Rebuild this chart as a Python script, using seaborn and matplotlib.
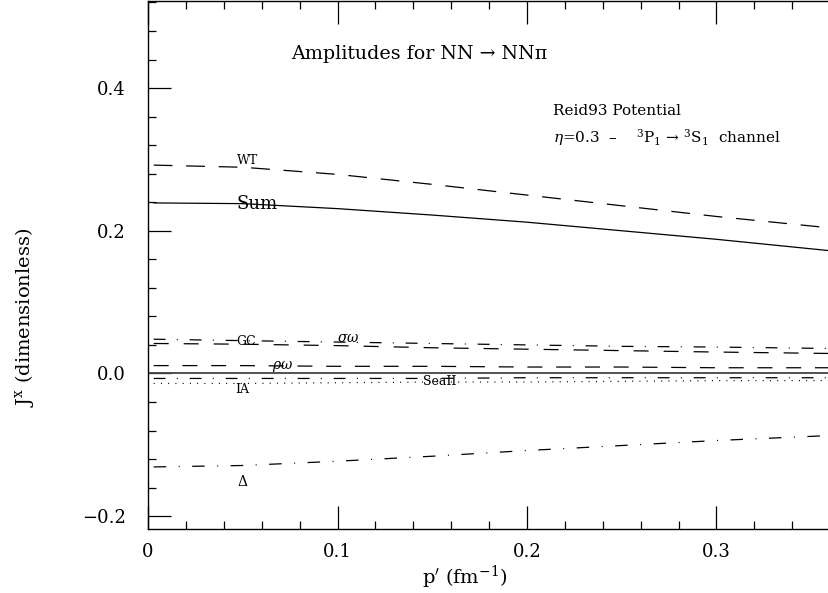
import numpy as np
import pandas as pd
import matplotlib
matplotlib.use("Agg")
import matplotlib.pyplot as plt
import seaborn as sns
from matplotlib.ticker import MultipleLocator

sns.set_theme(style="ticks")
plt.rcParams.update({
    "font.family": ["DejaVu Serif"],
    "mathtext.fontset": "dejavuserif",
    "axes.unicode_minus": True,
    "text.color": "black",
    "axes.labelcolor": "black",
    "xtick.color": "black",
    "ytick.color": "black",
    "xtick.labelcolor": "black",
    "ytick.labelcolor": "black",
})

# ---- data ----
momentum = [0.003, 0.05, 0.10, 0.15, 0.20, 0.25, 0.30, 0.36]
amp_WT = [0.292, 0.289, 0.279, 0.265, 0.250, 0.235, 0.220, 0.204]
amp_Sum = [0.239, 0.238, 0.231, 0.222, 0.212, 0.200, 0.188, 0.172]
amp_GC = [0.048, 0.046, 0.044, 0.042, 0.040, 0.038, 0.037, 0.035]
amp_sigma_omega = [0.042, 0.041, 0.039, 0.036, 0.034, 0.032, 0.030, 0.028]
amp_rho_omega = [0.011, 0.011, 0.010, 0.010, 0.009, 0.009, 0.008, 0.008]
amp_SeaII = [-0.007, -0.007, -0.007, -0.007, -0.006, -0.006, -0.006, -0.006]
amp_IA = [-0.014, -0.014, -0.013, -0.012, -0.012, -0.011, -0.010, -0.010]
amp_Delta = [-0.131, -0.129, -0.123, -0.116, -0.108, -0.101, -0.094, -0.087]

series_names = ["WT", "Sum", "GC", "sigma_omega", "rho_omega", "SeaII", "IA", "Delta"]
series_values = [amp_WT, amp_Sum, amp_GC, amp_sigma_omega, amp_rho_omega,
                 amp_SeaII, amp_IA, amp_Delta]

x_tick_values = [0.0, 0.1, 0.2, 0.3]
x_tick_labels = ["0", "0.1", "0.2", "0.3"]
y_tick_values = [-0.2, 0.0, 0.2, 0.4]
y_tick_labels = ["\u22120.2", "0.0", "0.2", "0.4"]

df = pd.DataFrame({
    "p": np.tile(momentum, len(series_names)),
    "J": np.concatenate(series_values),
    "amp": np.repeat(series_names, len(momentum)),
})

dash_styles = {
    "WT": (15, 11),
    "Sum": "",
    "GC": (9.5, 9, 0.8, 9.5),
    "sigma_omega": (12, 12),
    "rho_omega": (12, 11),
    "SeaII": (9.5, 9, 0.8, 9.5),
    "IA": (0.8, 5.0),
    "Delta": (10, 10, 0.8, 10),
}

fig = plt.figure(figsize=(8.29, 5.93), dpi=100)
ax = fig.add_axes([148 / 829, 1 - 529 / 593, (829 - 148) / 829, 528 / 593])

ax.axhline(0.0, color="#444444", lw=1.3, zorder=1)
sns.lineplot(data=df, x="p", y="J", style="amp", dashes=dash_styles,
             color="black", lw=0.9, legend=False, errorbar=None, ax=ax,
             style_order=series_names)

ax.set_xlim(0, 681 / 1895)
ax.set_ylim(-0.218, 0.522)

ax.set_xticks(x_tick_values, x_tick_labels)
ax.set_yticks(y_tick_values, y_tick_labels)
ax.xaxis.set_minor_locator(MultipleLocator(0.02))
ax.yaxis.set_minor_locator(MultipleLocator(0.04))
ax.tick_params(which="both", direction="in", top=True, right=False,
               color="black", width=0.9)
ax.tick_params(which="major", length=16.5, labelsize=13)
ax.tick_params(axis="x", which="major", pad=10)
ax.tick_params(axis="y", which="major", pad=16)
ax.tick_params(which="minor", length=6)

for side in ["left", "bottom", "top"]:
    ax.spines[side].set_color("black")
    ax.spines[side].set_linewidth(1.0)
ax.spines["right"].set_visible(False)

ax.set_xlabel(r"p$'$ (fm$^{-1}$)", fontsize=14)
ax.set_ylabel(r"J$^{\mathrm{x}}$ (dimensionless)", fontsize=14)
ax.xaxis.set_label_coords(0.465, -0.066)
ax.yaxis.set_label_coords(-0.165, 0.40)

# curve labels
ax.text(0.0528, 0.298, "WT", fontsize=9, ha="center", va="center")
ax.text(0.0575, 0.238, "Sum", fontsize=13, ha="center", va="center")
ax.text(0.052, 0.045, "GC", fontsize=9, ha="center", va="center")
ax.text(0.1055, 0.049, r"$\sigma\omega$", fontsize=10, ha="center", va="center")
ax.text(0.071, 0.0098, r"$\rho\omega$", fontsize=10, ha="center", va="center")
ax.text(0.154, -0.011, "SeaII", fontsize=9, ha="center", va="center")
ax.text(0.050, -0.022, "IA", fontsize=9, ha="center", va="center")
ax.text(0.0496, -0.152, "\u0394", fontsize=10, ha="center", va="center")

ax.text(0.143, 0.4476, "Amplitudes for NN \u2192 NN\u03c0",
        fontsize=13.7, ha="center", va="center")
ax.text(0.2137, 0.368, "Reid93 Potential", fontsize=11,
        ha="left", va="center")
channel_text = (r"$\eta$=0.3  " + "\u2013" + r"    $^{3}$P$_{1}$ " + "\u2192"
                + r" $^{3}$S$_{1}$  channel")
ax.text(0.2137, 0.330, channel_text, fontsize=11, ha="left", va="center")

fig.savefig("out.png", dpi=100)
